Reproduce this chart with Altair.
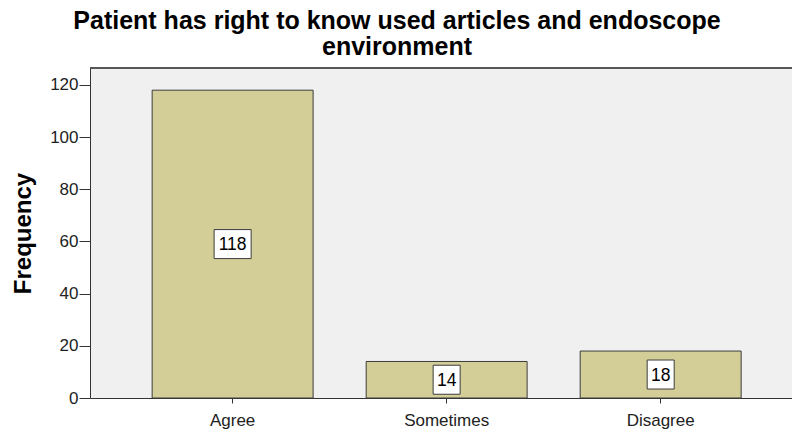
import altair as alt
import pandas as pd

# Response categories and their counts
categories = ["Agree", "Sometimes", "Disagree"]
frequencies = [118, 14, 18]

df = pd.DataFrame({"answer": categories, "count": frequencies})

FONT = "Liberation Sans"
PLOT_W, PLOT_H = 702, 330

# Label box outlines (unit square coordinates, scaled by the symbol size)
WIDE_BOX = "M-1.276,-1H1.276V1H-1.276Z"
NARROW_BOX = "M-0.931,-1H0.931V1H-0.931Z"

x_enc = alt.X(
    "answer:N",
    sort=categories,
    scale=alt.Scale(paddingInner=0.248, paddingOuter=0.264, align=0.55),
    axis=alt.Axis(
        title=None,
        labelAngle=0,
        labelFont=FONT,
        labelFontSize=17,
        labelColor="#222222",
        labelPadding=9,
        tickSize=5,
        tickColor="#333333",
        domainColor="#333333",
        domainWidth=1,
    ),
)

y_scale = alt.Scale(domain=[0, 126.5], nice=False)

bars = alt.Chart(df).mark_bar(
    color="#d3ce97", stroke="#3c3c3c", strokeWidth=1
).encode(
    x=x_enc,
    y=alt.Y(
        "count:Q",
        scale=y_scale,
        axis=alt.Axis(
            title="Frequency",
            titleFont=FONT,
            titleFontSize=24,
            titleFontWeight="bold",
            titleColor="#000000",
            titlePadding=14,
            values=[0, 20, 40, 60, 80, 100, 120],
            labelFont=FONT,
            labelFontSize=17,
            labelColor="#222222",
            labelPadding=1,
            tickSize=11,
            tickColor="#333333",
            domainColor="#333333",
            domainWidth=1,
            grid=False,
        ),
    ),
)

label_base = alt.Chart(df).transform_calculate(
    mid="datum.count / 2",
    box=f"length(toString(datum.count)) > 2 ? '{WIDE_BOX}' : '{NARROW_BOX}'",
)

boxes = label_base.mark_point(
    size=841, fill="white", fillOpacity=1, stroke="#3c3c3c", strokeWidth=1, opacity=1
).encode(
    x=alt.X("answer:N", sort=categories),
    y=alt.Y("mid:Q", scale=y_scale),
    shape=alt.Shape("box:N", scale=None),
)

labels = label_base.mark_text(
    font=FONT, fontSize=17.5, color="#000000", baseline="middle", align="center", dy=1
).encode(
    x=alt.X("answer:N", sort=categories),
    y=alt.Y("mid:Q", scale=y_scale),
    text=alt.Text("count:Q"),
)

# Top border of the plot frame
top_border = alt.Chart(df).mark_rule(color="#555555", strokeWidth=1.5).encode(
    x=alt.value(0), x2=alt.value(PLOT_W), y=alt.value(0)
)

chart = (
    alt.layer(bars, boxes, labels, top_border)
    .properties(
        width=PLOT_W,
        height=PLOT_H,
        title=alt.TitleParams(
            text=["Patient has right to know used articles and endoscope", "environment"],
            font=FONT,
            fontSize=25,
            fontWeight="bold",
            color="#000000",
            anchor="middle",
            dx=-44,
            offset=7,
            lineHeight=26,
        ),
        autosize=alt.AutoSizeParams(type="none"),
        padding={"left": 90, "top": 68, "right": 0, "bottom": 35},
        background="white",
    )
    .configure_view(fill="#f0f0f0", stroke=None)
)

chart.save("out.html", embed_options={"renderer": "svg", "actions": False})
